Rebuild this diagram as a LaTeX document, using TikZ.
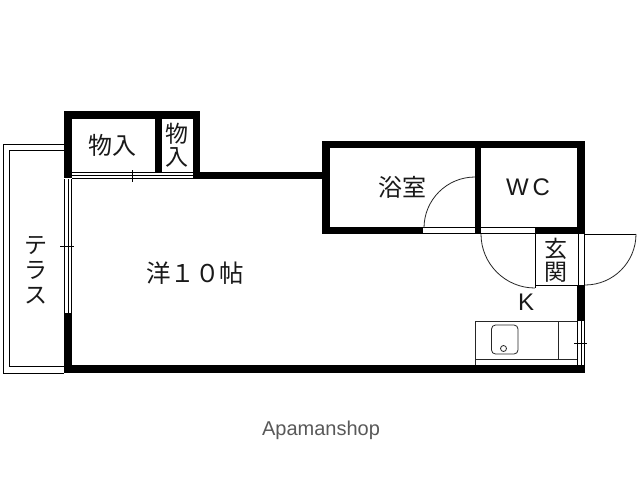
\documentclass[tikz,border=0pt]{standalone}
\usepackage{fontspec}
\setmainfont{Noto Sans CJK JP}
\newfontfamily\latinfont{Liberation Sans}
\tikzset{
  wall/.style={fill=black,draw=none},
  thin line/.style={draw=black,line width=0.9pt},
  fine/.style={draw=black!85,line width=0.8pt},
  room/.style={font=\fontsize{24}{26}\selectfont,inner sep=0pt,text=black!90},
  small room/.style={font=\fontsize{23}{24}\selectfont,inner sep=0pt,text=black!90,align=center},
}
\begin{document}
\begin{tikzpicture}[x=1pt,y=-1pt]
\useasboundingbox (0,0) rectangle (640,480);
\fill[white] (0,0) rectangle (640,480);
% terrace
\draw[thin line] (64,144) -- (3,144) -- (3,373) -- (64,373);
\draw[thin line] (64,150) -- (9,150) -- (9,366) -- (64,366);
% walls
\fill[wall] (64,111) rectangle (200,119);
\fill[wall] (64,111) rectangle (72,178);
\fill[wall] (155,119) rectangle (162,172);
\fill[wall] (193,111) rectangle (200,179);
\fill[wall] (193,172) rectangle (323,179);
\fill[wall] (64,313) rectangle (72,373);
\fill[wall] (64,365) rectangle (585,373);
\fill[wall] (322,141) rectangle (585,148);
\fill[wall] (322,141) rectangle (330,234);
\fill[wall] (322,227) rectangle (423,234);
\fill[wall] (475,148) rectangle (481,234);
\fill[wall] (535,227) rectangle (585,234);
\fill[wall] (577,141) rectangle (585,234);
\fill[wall] (577,285) rectangle (585,321);
% storage sliding doors
\draw[thin line] (72,172.5) -- (193,172.5);
\draw[thin line] (72,175.5) -- (193,175.5);
\draw[thin line] (72,178.5) -- (193,178.5);
\draw[thin line] (132,170) -- (132,182);
% window
\draw[thin line] (64.5,179) -- (64.5,313);
\draw[thin line] (68,179) -- (68,313);
\draw[thin line] (71.5,179) -- (71.5,313);
\draw[thin line] (60,246) -- (74,246);
% door openings
\draw[thin line] (423,227.5) -- (475,227.5);
\draw[thin line] (423,233.5) -- (475,233.5);
\draw[thin line] (481,227.5) -- (535,227.5);
\draw[thin line] (481,233.5) -- (535,233.5);
% bath door
\draw[fine] (475,177) arc[start angle=270,end angle=180,radius=51];
% kitchen door
\draw[fine] (481,234) arc[start angle=180,end angle=90,radius=54];
\draw[thin line] (535,234) -- (535,288);
\draw[thin line] (535,285.5) -- (577,285.5);
% entrance door
\draw[thin line] (578,234) -- (578,285);
\draw[thin line] (584,234) -- (584,285);
\draw[thin line] (585,234) -- (636,234);
\draw[fine] (636,234) arc[start angle=0,end angle=90,radius=51];
% kitchen unit
\draw[fine] (475,365) -- (475,321) -- (577,321);
\draw[fine] (475,359) -- (577,359);
\draw[fine] (558,321) -- (558,359);
\draw[fine,rounded corners=4pt] (491.5,325) rectangle (518,354);
\draw[fine] (503.5,348.5) circle[radius=3];
\draw[thin line] (577.5,321) -- (577.5,365);
\draw[thin line] (581,321) -- (581,365);
\draw[thin line] (584.5,321) -- (584.5,365);
\draw[thin line] (574,343) -- (587,343);
% labels
\node[room] (storeA) at (112.5,145) {物入};
\node[small room] (storeB) at (177,145) {物\\[-1pt]入};
\node[room,font=\fontsize{24.5}{26}\selectfont] (western) at (195,273) {洋１０帖};
\node[room,align=center,font=\fontsize{23}{25}\selectfont] (terrace) at (36,270) {テ\\ラ\\ス};
\node[room] (bath) at (402,187) {浴室};
\node[room,font=\latinfont\fontsize{24}{26}\selectfont] (wc) at (528,187) {W\,C};
\node[small room] (genkan) at (556,260) {玄\\[-1pt]関};
\node[room,font=\latinfont\fontsize{24}{26}\selectfont] (kitchen) at (526,302) {K};
\node[inner sep=0pt,text=black!65,font=\latinfont\fontsize{20}{22}\selectfont] (brand) at (321,430) {Apamanshop};
\end{tikzpicture}
\end{document}
